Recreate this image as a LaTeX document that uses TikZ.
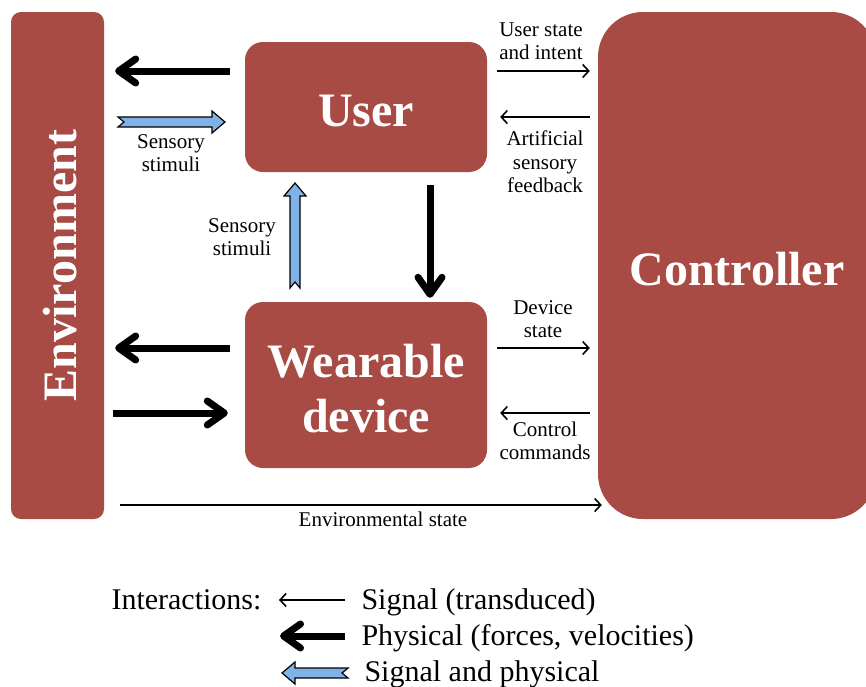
\documentclass[tikz,border=0pt]{standalone}
\usepackage{fontspec}
\setmainfont{Liberation Serif}
\usepackage{graphicx}
\usetikzlibrary{arrows.meta,positioning,calc}

\definecolor{boxred}{RGB}{168,75,69}
\definecolor{sigblue}{RGB}{128,178,232}

\tikzset{
    block/.style={fill=boxred, inner sep=0pt, rounded corners=18pt},
    blocktext/.style={text=white, font=\fontsize{48}{55}\selectfont\bfseries, align=center, inner sep=0pt},
    lbl/.style={font=\fontsize{21}{23.5}\selectfont, align=center},
    legtext/.style={font=\fontsize{30}{36}\selectfont},
    sig/.style={line width=1.6pt, -{Straight Barb[length=6pt,width=13pt]}},
    phys/.style={line width=7pt, -{Straight Barb[length=17pt,width=24pt,round]}},
    pics/sigphys/.style={code={
        \draw[line width=1.2pt, fill=sigblue] (0,-5) -- (#1-13,-5) -- (#1-13,-11) -- (#1,0)
            -- (#1-13,11) -- (#1-13,5) -- (0,5) -- (6,0) -- cycle;
    }}
}

\begin{document}
\begin{tikzpicture}[x=1pt, y=-1pt]
    \clip (0,0) rectangle (866,686);

    % Blocks
    \node[block, rounded corners=10pt, minimum width=93pt, minimum height=507pt] (env) at (57.5,265.5) {};
    \node[block, minimum width=242pt, minimum height=130pt] (user) at (366,107) {};
    \node[block, minimum width=242pt, minimum height=166pt] (wear) at (366,385) {};
    \node[block, rounded corners=45pt, minimum width=278pt, minimum height=507pt] (ctrl) at (737,265.5) {};

    \node[blocktext, rotate=90] (tenv) at ([xshift=3pt]env) {Environment};
    \node[blocktext] (tuser) at ([yshift=-4pt]user) {User};
    \node[blocktext] (twear) at ([yshift=-4pt]wear) {Wearable\\device};
    \node[blocktext] (tctrl) at ([yshift=-4pt]ctrl) {Controller};

    % Physical interactions
    \draw[phys, shorten <=15pt, shorten >=11pt] (user.west |- 0,71) -- (env.east |- 0,71);
    \draw[phys, shorten <=15pt, shorten >=11pt] (wear.west |- 0,348) -- (env.east |- 0,348);
    \draw[phys, shorten <=9pt, shorten >=17pt] (env.east |- 0,413) -- (wear.west |- 0,413);
    \draw[phys, shorten <=13pt, shorten >=4pt] ([xshift=64pt]user.south) -- ([xshift=64pt]wear.north);

    % Signal and physical
    \pic at (118,122) {sigphys=107};
    \pic[rotate=90] at (295,288) {sigphys=105};

    % Signals to and from the controller
    \draw[sig, shorten <=10pt, shorten >=8pt] (user.east |- 0,71) -- (ctrl.west |- 0,71);
    \draw[sig, shorten <=8pt, shorten >=13pt] (ctrl.west |- 0,117) -- (user.east |- 0,117);
    \draw[sig, shorten <=10pt, shorten >=8pt] (wear.east |- 0,348) -- (ctrl.west |- 0,348);
    \draw[sig, shorten <=8pt, shorten >=13pt] (ctrl.west |- 0,413) -- (wear.east |- 0,413);
    \draw[sig, shorten <=16pt, shorten >=-4pt] (env.east |- 0,505) -- (ctrl.west |- 0,505);

    % Labels
    \node[lbl] (lstim) at (171,153) {Sensory\\stimuli};
    \node[lbl] (mstim) at (242,237) {Sensory\\stimuli};
    \node[lbl] (lintent) at (541,41) {User state\\and intent};
    \node[lbl] (lfeed) at (545,162) {Artificial\\sensory\\feedback};
    \node[lbl] (ldev) at (543,319) {Device\\state};
    \node[lbl] (lcmd) at (545,441) {Control\\commands};
    \node[lbl] (lenv) at (383,519) {Environmental state};

    % Legend
    \node[legtext, anchor=base east] (linter) at (265,609) {Interactions:};
    \node[legtext, anchor=base west] (lsig) at (358,609) {Signal (transduced)};
    \node[legtext, anchor=base west] (lphys) at (358,645) {Physical (forces, velocities)};
    \node[legtext, anchor=base west] (lboth) at (361,681) {Signal and physical};
    \coordinate (csig) at (279,600);
    \coordinate (cphys) at (280,636);
    \draw[sig, shorten <=13pt] (lsig.west |- csig) -- (csig);
    \draw[phys, shorten <=13pt] (lphys.west |- cphys) -- (cphys);
    \pic[rotate=180] at (348,673) {sigphys=66};
\end{tikzpicture}
\end{document}
